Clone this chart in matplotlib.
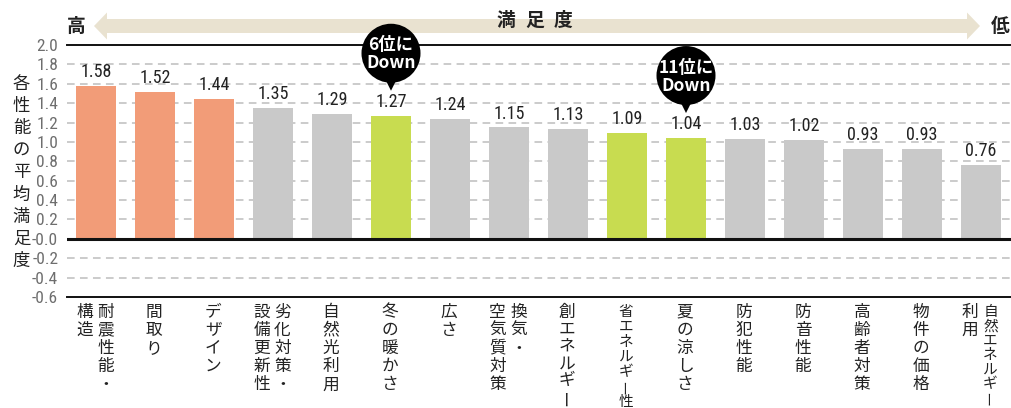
import matplotlib
matplotlib.use("Agg")
import matplotlib.pyplot as plt
from matplotlib.patches import Circle, Polygon, FancyArrow
from matplotlib import font_manager
from matplotlib.font_manager import FontProperties

# ---------------- data ----------------
categories = [
    ["耐震性能・", "構造"],
    ["間取り"],
    ["デザイン"],
    ["劣化対策・", "設備更新性"],
    ["自然光利用"],
    ["冬の暖かさ"],
    ["広さ"],
    ["換気・", "空気質対策"],
    ["創エネルギー"],
    ["省エネルギー性"],
    ["夏の涼しさ"],
    ["防犯性能"],
    ["防音性能"],
    ["高齢者対策"],
    ["物件の価格"],
    ["自然エネルギー", "利用"],
]
values = [1.58, 1.52, 1.44, 1.35, 1.29, 1.27, 1.24, 1.15, 1.13, 1.09, 1.04, 1.03, 1.02, 0.93, 0.93, 0.76]
groups = ["top", "top", "top", "other", "other", "down", "other", "other", "other", "down",
          "down", "other", "other", "other", "other", "other"]
callouts = {5: ["6位に", "Down"], 10: ["11位に", "Down"]}
y_ticks = [2.0, 1.8, 1.6, 1.4, 1.2, 1.0, 0.8, 0.6, 0.4, 0.2, 0.0, -0.2, -0.4, -0.6]
y_tick_labels = ["2.0", "1.8", "1.6", "1.4", "1.2", "1.0", "0.8", "0.6", "0.4", "0.2",
                 "-0.0", "-0.2", "-0.4", "-0.6"]
y_label = "各性能の平均満足度"
header = "満足度"
high_label, low_label = "高", "低"

colors = {"top": "#F29C78", "other": "#C9C9C9", "down": "#C8DC50"}

# ---------------- fonts ----------------
def find_narrow():
    prefs = ["Roboto Condensed", "Liberation Sans Narrow", "DejaVu Sans Condensed",
             "Open Sans Condensed", "Noto Sans Condensed"]
    entries = font_manager.fontManager.ttflist
    for p in prefs:
        for f in entries:
            if f.name == p and f.weight in (400, "normal", "regular") and f.style == "normal":
                return FontProperties(fname=f.fname)
    for f in entries:
        if (("Condensed" in f.name or "Narrow" in f.name or
             str(f.stretch) in ("condensed", "semi-condensed", "75", "87.5"))
                and f.style == "normal" and "Mono" not in f.name and "Serif" not in f.name
                and f.weight in (400, "normal", "regular")):
            return FontProperties(fname=f.fname)
    for f in entries:
        if ("Condensed" in f.fname or "Narrow" in f.fname) and "Mono" not in f.fname \
                and "Serif" not in f.fname and "Bold" not in f.fname and "Oblique" not in f.fname \
                and "Italic" not in f.fname:
            return FontProperties(fname=f.fname)
    return FontProperties(family="Roboto")

NUMFP = find_narrow()
CJK = ["Noto Sans CJK JP", "DejaVu Sans"]

def nfp(size):
    fp = NUMFP.copy()
    fp.set_size(size)
    return fp

W, H = 1011, 408
fig = plt.figure(figsize=(W / 100, H / 100), dpi=100)

ax_left, ax_right, ax_top, ax_bot = 66.5, 1010.5, 45, 297
ax = fig.add_axes([ax_left / W, (H - ax_bot) / H, (ax_right - ax_left) / W, (ax_bot - ax_top) / H])

x = list(range(len(values)))
ax.bar(x, values, width=0.68, color=[colors[g] for g in groups], zorder=3)
ax.set_xlim(-0.5, len(values) - 0.5)
ax.set_ylim(-0.6, 2.0)
ax.set_yticks(y_ticks)
ax.set_yticklabels(y_tick_labels, color="#6E6E6E", fontproperties=nfp(12.5))
ax.tick_params(axis="y", length=0, pad=6)
ax.set_xticks([])
for yv in y_ticks:
    if yv in (2.0, 0.0, -0.6):
        continue
    ax.axhline(yv, color="#BDBDBD", lw=1.1, ls=(0, (5, 3.5)), zorder=1)
ax.axhline(0.0, color="#111111", lw=2.2, zorder=4)
for s in ["left", "right"]:
    ax.spines[s].set_visible(False)
ax.spines["top"].set_color("#111111")
ax.spines["top"].set_linewidth(1.4)
ax.spines["bottom"].set_color("#111111")
ax.spines["bottom"].set_linewidth(1.4)

for i, v in enumerate(values):
    ax.annotate(f"{v:.2f}", (i, v), xytext=(0, 3.5), textcoords="offset points",
                ha="center", va="bottom", fontproperties=nfp(13), color="#222222", zorder=5)

# ---------------- overlay in pixel coordinates ----------------
ov = fig.add_axes([0, 0, 1, 1], zorder=10)
ov.set_xlim(0, W)
ov.set_ylim(H, 0)
ov.axis("off")
ov.patch.set_alpha(0)

fig.canvas.draw()
def to_px(xd, yd):
    dx, dy = ax.transData.transform((xd, yd))
    return dx, H - dy

# header arrow
arrow_col = "#E9E2D0"
ov.add_patch(FancyArrow(535, 26, 980 - 535, 0, width=14, head_width=27, head_length=13,
                        length_includes_head=True, color=arrow_col, lw=0))
ov.add_patch(FancyArrow(535, 26, 94 - 535, 0, width=14, head_width=27, head_length=13,
                        length_includes_head=True, color=arrow_col, lw=0))
for k, ch in enumerate(header):
    ov.text(506 + k * 28.5, 20, ch, ha="center", va="center", fontsize=13.5, fontweight="bold",
            family=CJK, color="#222222")
ov.text(76, 26, high_label, ha="center", va="center", fontsize=13.5, fontweight="bold",
        family=CJK, color="#222222")
ov.text(1000, 26, low_label, ha="center", va="center", fontsize=13.5, fontweight="bold",
        family=CJK, color="#222222")

# y label (stacked)
for k, ch in enumerate(y_label):
    ov.text(21.5, 84 + k * 22.1, ch, ha="center", va="center", fontsize=12.5, family=CJK,
            color="#222222")

# x labels (vertical text, columns right-to-left)
def vtext(xc, yfirst, s, step=18.2, fs=12):
    n = len(s)
    span = 86 if s[-1] == "ー" else 90
    if n > 1 and (n - 1) * step > span:
        step = span / (n - 1)
    if n >= 7:
        fs *= 0.88
    for k, ch in enumerate(s):
        rot = 90 if ch == "ー" else 0
        ov.text(xc, yfirst + k * step, ch, ha="center", va="center", fontsize=fs,
                family=CJK, color="#222222", rotation=rot)

for i, cols in enumerate(categories):
    xc, _ = to_px(i, 0)
    n = len(cols)
    if n == 1:
        xs = [xc - 1]
    else:
        xs = [xc - 1 + 10.5, xc - 1 - 10.5]
    for xx, s in zip(xs, cols):
        vtext(xx, 312, s)

# callout bubbles
for i, lines in callouts.items():
    bx, by = to_px(i, values[i])
    tip_y = by - 25
    r = 29.5
    cy = tip_y - r - 8
    ov.add_patch(Circle((bx, cy), r, color="black", lw=0))
    ov.add_patch(Polygon([[bx - 6, cy + r - 4], [bx + 6, cy + r - 4], [bx, tip_y]], closed=True,
                         color="black", lw=0))
    ov.text(bx, cy - 8, lines[0], ha="center", va="center", fontsize=12.5, fontweight="bold",
            family=CJK, color="white")
    ov.text(bx, cy + 10, lines[1], ha="center", va="center", fontsize=12.5, fontweight="bold",
            family=CJK, color="white")

fig.savefig("out.png", dpi=100)
